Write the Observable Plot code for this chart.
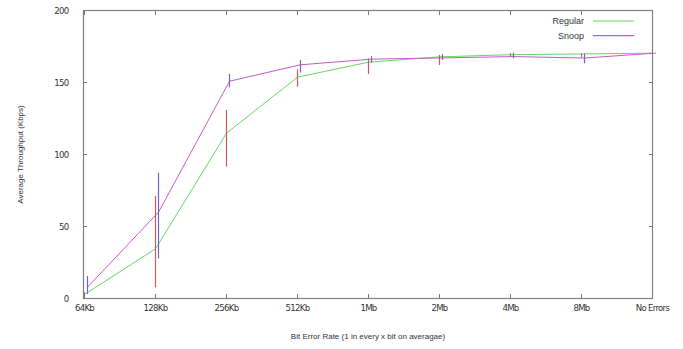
<!DOCTYPE html>
<html>
<head>
<meta charset="utf-8">
<script src="https://cdn.jsdelivr.net/npm/d3@7"></script>
<script src="https://cdn.jsdelivr.net/npm/@observablehq/plot@0.6"></script>
<style>
  html, body { margin: 0; padding: 0; background: #fff; }
  #wrap { position: relative; width: 683px; height: 349px; }
  svg { font-family: "Liberation Sans", Arial, sans-serif; }
  g[aria-label="x-axis tick label"] text,
  g[aria-label="y-axis tick label"] text { font-family: "DejaVu Sans Condensed", "Liberation Sans Narrow", sans-serif; font-size: 9.5px; letter-spacing: -0.7px; fill: #333; }
  g[aria-label="x-axis label"] text, g[aria-label="y-axis label"] text { font-size: 8px; fill: #333; }
  #legend { position: absolute; left: 0; top: 0; pointer-events: none; }
  #legend text { font-family: "Liberation Sans", Arial, sans-serif; font-size: 9px; fill: #333; }
</style>
</head>
<body>
<div id="wrap"></div>
<script>
const categories = ["64Kb", "128Kb", "256Kb", "512Kb", "1Mb", "2Mb", "4Mb", "8Mb", "No Errors"];
const regularMean = [2.8, 34.5, 114.8, 153.7, 164.1, 167.8, 169.3, 169.8, 170.4];
const regularLow  = [2.0, 7.4, 91.2, 146.7, 155.6, 161.8, 167.5, 167.1, 170.4];
const regularHigh = [4.0, 70.8, 130.6, 158.8, 166.4, 168.8, 170.0, 169.9, 170.4];
const snoopMean = [7.9, 59.9, 150.9, 162.3, 166.2, 167.1, 168.0, 167.0, 170.4];
const snoopLow  = [2.8, 27.5, 146.3, 156.5, 163.4, 165.3, 166.4, 163.0, 170.4];
const snoopHigh = [15.3, 87.0, 155.6, 165.3, 168.0, 169.4, 170.3, 169.9, 170.4];
const yTicks = [0, 50, 100, 150, 200];

const regular = categories.map((c, i) => ({cat: c, y: regularMean[i], lo: regularLow[i], hi: regularHigh[i]}));
const snoop = categories.map((c, i) => ({cat: c, y: snoopMean[i], lo: snoopLow[i], hi: snoopHigh[i]}));

const green = "#66d866", magenta = "#c85ac8", red = "#cc5a5a", blue = "#6a6ab8";

const chart = Plot.plot({
  width: 683,
  height: 349,
  marginLeft: 83,
  marginRight: 31,
  marginTop: 10,
  marginBottom: 51,
  x: {type: "point", domain: categories, padding: 0},
  y: {domain: [0, 200]},
  marks: [
    Plot.axisX({anchor: "bottom", tickSize: -4, tickPadding: 10, stroke: "#777",
      label: "Bit Error Rate (1 in every x bit on averagae)", labelAnchor: "center", labelOffset: 40, labelArrow: "none"}),
    Plot.axisX({anchor: "top", tickSize: -4, tickFormat: () => "", label: null, stroke: "#777"}),
    Plot.axisY({anchor: "left", ticks: yTicks, tickSize: -4, tickPadding: 19, stroke: "#777",
      label: "Average Throughput (Kbps)", labelAnchor: "center", labelOffset: 66, labelArrow: "none"}),
    Plot.axisY({anchor: "right", ticks: yTicks, tickSize: -4, tickFormat: () => "", label: null, stroke: "#777"}),
    Plot.line(regular, {x: "cat", y: "y", stroke: green, strokeWidth: 1}),
    Plot.line(snoop, {x: "cat", y: "y", stroke: magenta, strokeWidth: 1, dx: 3}),
    Plot.ruleX(regular, {x: "cat", y1: "lo", y2: "hi", stroke: red, strokeWidth: 1.2}),
    Plot.ruleX(snoop, {x: "cat", y1: "lo", y2: "hi", stroke: blue, strokeWidth: 1.2, dx: 3}),
    Plot.frame({stroke: "#808080", strokeWidth: 1.2})
  ]
});
const wrap = document.getElementById("wrap");
wrap.appendChild(chart);

const legendSeries = ["Regular", "Snoop"];
const legendColors = [green, magenta];
const ns = "http://www.w3.org/2000/svg";
const lg = document.createElementNS(ns, "svg");
lg.setAttribute("id", "legend");
lg.setAttribute("width", 683);
lg.setAttribute("height", 60);
legendSeries.forEach((name, i) => {
  const yy = 21 + i * 14.7;
  const t = document.createElementNS(ns, "text");
  t.setAttribute("x", 584); t.setAttribute("y", yy); t.setAttribute("dy", "0.35em");
  t.setAttribute("text-anchor", "end"); t.textContent = name;
  lg.appendChild(t);
  const l = document.createElementNS(ns, "line");
  l.setAttribute("x1", 593); l.setAttribute("x2", 634);
  l.setAttribute("y1", yy); l.setAttribute("y2", yy);
  l.setAttribute("stroke", legendColors[i]); l.setAttribute("stroke-width", 1.2);
  lg.appendChild(l);
});
wrap.appendChild(lg);
</script>
</body>
</html>
